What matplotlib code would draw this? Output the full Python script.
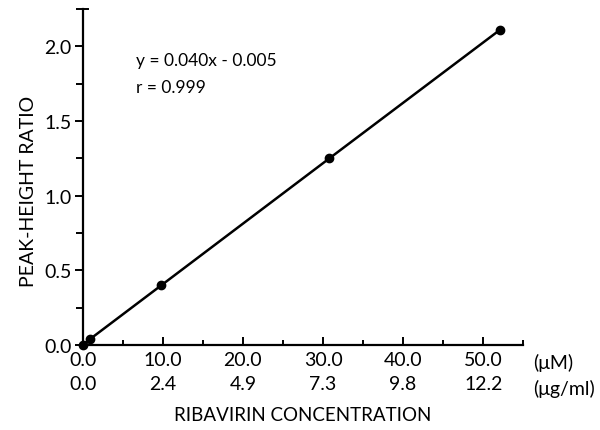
import matplotlib.pyplot as plt
from matplotlib.ticker import MultipleLocator

plt.rcParams['font.family'] = ['Lato', 'DejaVu Sans']

# calibration points (uM, peak-height ratio)
conc_um = [0.0, 0.9, 9.8, 30.8, 52.1]
ratio = [0.0, 0.04, 0.40, 1.25, 2.11]

tick_um = [0.0, 10.0, 20.0, 30.0, 40.0, 50.0]
tick_ugml = ["0.0", "2.4", "4.9", "7.3", "9.8", "12.2"]
y_ticks = [0.0, 0.5, 1.0, 1.5, 2.0]

fig = plt.figure(figsize=(6, 4.31), dpi=100)
ax = fig.add_axes([0.138, 0.197, 0.734, 0.78])

ax.plot(conc_um, ratio, color='black', lw=1.8, marker='o', ms=6,
        clip_on=False, zorder=5)

ax.set_xlim(0, 55)
ax.set_ylim(0, 2.25)
for s in ['top', 'right']:
    ax.spines[s].set_visible(False)
ax.spines['left'].set_linewidth(1.6)
ax.spines['bottom'].set_linewidth(1.6)

ax.set_xticks(tick_um)
ax.set_xticklabels([f"{a:.1f}\n{b}" for a, b in zip(tick_um, tick_ugml)],
                   linespacing=1.5)
ax.xaxis.set_minor_locator(MultipleLocator(5))
ax.set_yticks(y_ticks)
ax.set_yticklabels([f"{v:.1f}" for v in y_ticks])
ax.yaxis.set_minor_locator(MultipleLocator(0.25))

ax.tick_params(axis='x', which='major', direction='in', length=6, width=1.4,
               labelsize=14, pad=4)
ax.tick_params(axis='x', which='minor', direction='in', length=3.5, width=1.4)
ax.tick_params(axis='y', which='major', direction='out', length=6, width=1.4,
               labelsize=14, pad=2)
ax.tick_params(axis='y', which='minor', direction='out', length=5, width=1.4)

# small cap at the top of the y axis
ax.plot([0, 0.012], [1, 1], transform=ax.transAxes, color='black', lw=1.4,
        clip_on=False)

ax.text(56.3, -0.055, "(\u03bcM)\n(\u03bcg/ml)", ha='left', va='top',
        fontsize=14, linespacing=1.5, transform=ax.transData, clip_on=False)

ax.set_xlabel("RIBAVIRIN CONCENTRATION", fontsize=13.5, labelpad=10)
ax.set_ylabel("PEAK-HEIGHT RATIO", fontsize=14, labelpad=10)
ax.yaxis.set_label_coords(-0.105, 0.46)

ax.text(6.7, 1.905, "y = 0.040x - 0.005", fontsize=12.5, va='center')
ax.text(6.7, 1.73, "r = 0.999", fontsize=12.5, va='center')

fig.savefig("out.png", dpi=100)
